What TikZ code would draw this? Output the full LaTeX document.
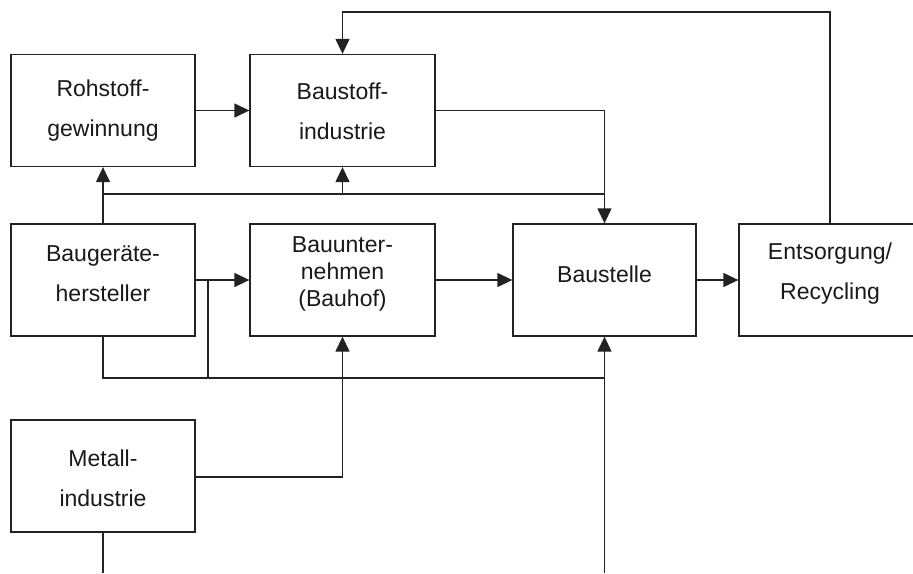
\documentclass[tikz,border=0pt]{standalone}
\usepackage{fontspec}
\setmainfont{Liberation Sans}
\usetikzlibrary{arrows.meta}
\definecolor{ln}{HTML}{222222}
\tikzset{
  box/.style={draw=ln, line width=1.3pt, minimum width=184pt, minimum height=112pt, inner sep=0pt},
  lbl/.style={align=center, inner sep=0pt, text=black!90, font=\fontsize{23}{40}\selectfont},
  lbltight/.style={align=center, inner sep=0pt, text=black!90, font=\fontsize{23}{27}\selectfont},
  con/.style={draw=ln, line width=1.3pt},
  arr/.style={con, -{Triangle[length=15pt,width=14pt]}}
}
\begin{document}
\begin{tikzpicture}[x=1pt,y=-1pt]
\useasboundingbox (0,0) rectangle (913,573);
\clip (0,0) rectangle (913,573);
% boxes
\node[box] (ro) at (103,110.5) {};
\node[box, minimum width=185pt] (bs) at (342.5,110.5) {};
\node[box] (bg) at (103,280) {};
\node[box, minimum width=185pt] (bu) at (342.5,280) {};
\node[box, minimum width=183pt] (st) at (604.5,280) {};
\node[box, minimum width=182pt] (en) at (830,280) {};
\node[box] (me) at (103,476) {};
% labels
\node[lbl] (ro-t) at (103,111) {Rohstoff-\\gewinnung};
\node[lbl] (bs-t) at (342.5,111) {Baustoff-\\industrie};
\node[lbl] (bg-t) at (103,274) {Baugeräte-\\hersteller};
\node[lbltight] (bu-t) at (342.5,274) {Bauunter-\\nehmen\\(Bauhof)};
\node[lbl] (st-t) at (604.5,274) {Baustelle};
\node[lbl] (en-t) at (830,274) {Entsorgung/\\Recycling};
\node[lbl] (me-t) at (103,478) {Metall-\\industrie};
% coordinates
\coordinate (top1) at (830,12);
\coordinate (top2) at (342.5,12);
\coordinate (j1) at (103,194);
\coordinate (j2) at (604.5,194);
\coordinate (j3) at (342.5,194);
\coordinate (c1) at (604.5,110.5);
\coordinate (b1) at (103,378);
\coordinate (b2) at (604.5,378);
\coordinate (b3) at (208,280);
\coordinate (b4) at (208,378);
\coordinate (m1) at (342.5,477);
\coordinate (endA) at (604.5,573);
\coordinate (endB) at (103,573);
% connectors
\draw[arr] (en.north -| top1) -- (top1) -- (top2) -- (bs.north);
\draw[arr] (ro.east) -- (bs.west);
\draw[arr] (bs.east) -- (c1) -- (st.north);
\draw[arr] (bg.north) -- (ro.south);
\draw[con] (j1) -- (j2);
\draw[arr] (j3) -- (bs.south);
\draw[arr] (bg.east) -- (bu.west);
\draw[arr] (bu.east) -- (st.west);
\draw[arr] (st.east) -- (en.west);
\draw[con] (bg.south) -- (b1) -- (b2);
\draw[con] (b3) -- (b4);
\draw[arr] (endA) -- (b2) -- (st.south);
\draw[arr] (me.east |- m1) -- (m1) -- (bu.south);
\draw[con] (me.south) -- (endB);
\end{tikzpicture}
\end{document}
